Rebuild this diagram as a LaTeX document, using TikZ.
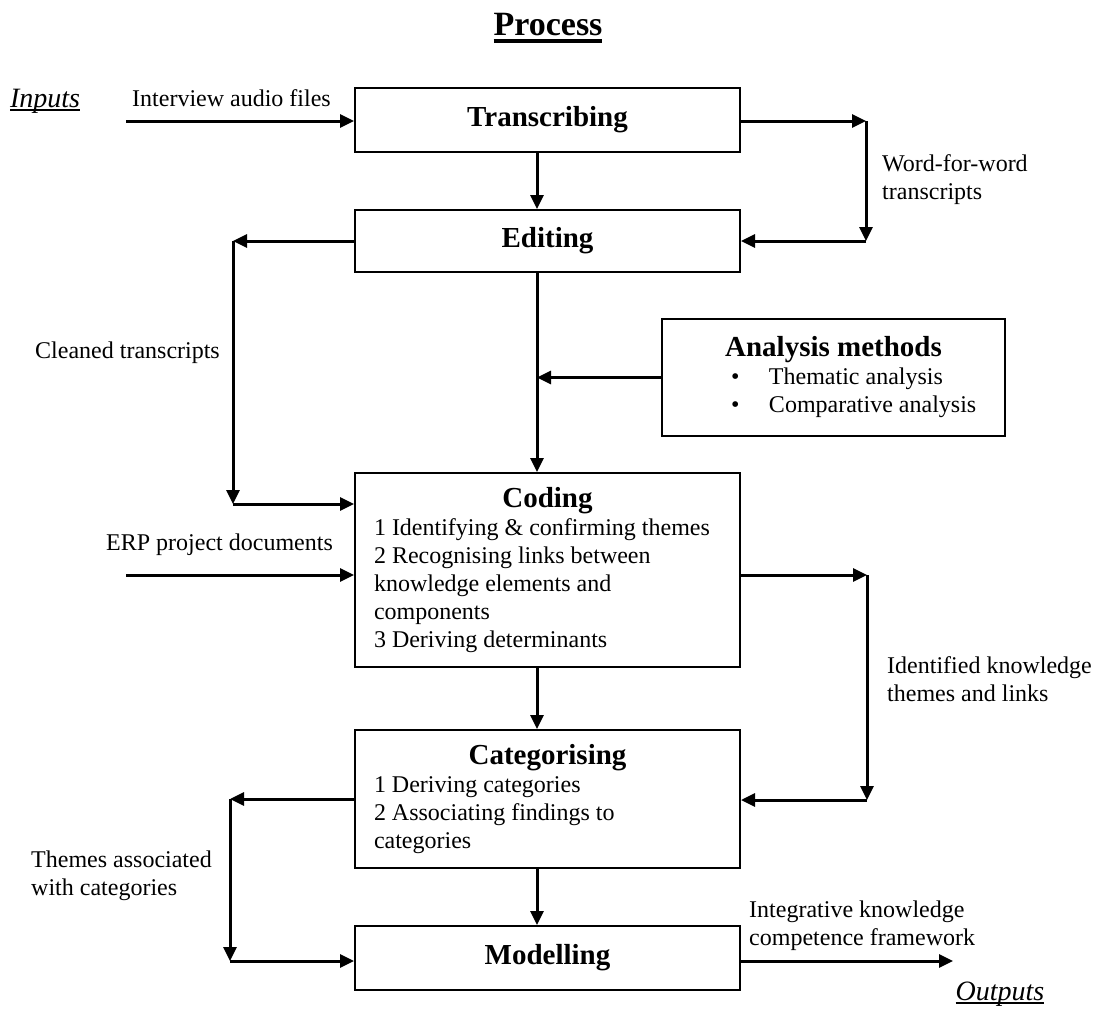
\documentclass[tikz,border=0pt]{standalone}
\usepackage{fontspec}
\setmainfont{Liberation Serif}
\usetikzlibrary{arrows.meta}

\newcommand{\labelsize}{\fontsize{24}{28}\selectfont}
\newcommand{\titlesize}{\fontsize{29}{34}\selectfont\bfseries}
% underline: depth below baseline, rule thickness, text
\newcommand{\ulword}[3]{\setbox0=\hbox{#3}\rlap{\rule[-#1]{\wd0}{#2}}\box0}

\begin{document}
\begin{tikzpicture}[x=1pt, y=-1pt,
    procbox/.style={rectangle, draw, line width=2pt, minimum width=385pt, inner sep=0pt, font=\labelsize},
    flow/.style={-{Triangle[length=14pt,width=13pt]}, line width=3pt},
    lbl/.style={anchor=west, align=flush left, inner sep=0pt, font=\labelsize},
    sidetag/.style={inner sep=0pt, font=\fontsize{28}{32}\selectfont\itshape}]

    \useasboundingbox (0,0) rectangle (1098,1009);

    % Heading and side tags
    \node[inner sep=0pt, font=\fontsize{34}{40}\selectfont\bfseries] (heading) at (548,28) {\ulword{7.5pt}{3.5pt}{Process}};
    \node[sidetag] (inputs) at (45,101) {\ulword{4pt}{1.8pt}{Inputs}};
    \node[sidetag] (outputs) at (1000,994) {\ulword{4pt}{1.8pt}{Outputs}};

    % Process steps
    \node[procbox, minimum height=64pt, font=\titlesize] (transcribing) at (547.5,120) {Transcribing};
    \node[procbox, minimum height=62pt, font=\titlesize] (editing) at (547.5,241) {Editing};
    \node[procbox, minimum height=194pt, text width=347pt, align=flush left] (coding) at (547.5,570)
        {{\centering\titlesize Coding\par}1 Identifying \& confirming themes\\ 2 Recognising links between\\ knowledge elements and\\ components\\ 3 Deriving determinants};
    \node[procbox, minimum height=138pt, text width=347pt, align=flush left] (categorising) at (547.5,799)
        {{\centering\titlesize Categorising\par}1 Deriving categories\\ 2 Associating findings to\\ categories};
    \node[procbox, minimum height=64pt, font=\titlesize] (modelling) at (547.5,958) {Modelling};
    \node[procbox, minimum width=343pt, minimum height=117pt, text width=305pt, align=flush left] (analysis) at (833.5,377.5)
        {{\centering\titlesize Analysis methods\par}\hspace*{50pt}\makebox[38pt][l]{\textbullet}Thematic analysis\\ \hspace*{50pt}\makebox[38pt][l]{\textbullet}Comparative analysis};

    % Flow labels
    \node[lbl] (audio) at (132,98) {Interview audio files};
    \node[lbl] (wordlbl) at (882,180) {Word-for-word\\ transcripts};
    \node[lbl] (cleanlbl) at (35,353) {Cleaned transcripts};
    \node[lbl] (erplbl) at (106,545) {ERP project documents};
    \node[lbl] (identlbl) at (887,679) {Identified knowledge\\ themes and links};
    \node[lbl] (themelbl) at (31,876) {Themes associated\\ with categories};
    \node[lbl] (frameworklbl) at (749,926) {Integrative knowledge\\ competence framework};

    % Corner points of the loops
    \coordinate (spine) at (537,0);
    \coordinate (inStart) at (126,121);
    \coordinate (erpStart) at (126,575);
    \coordinate (wfTop) at (866,121);
    \coordinate (wfBot) at (866,241);
    \coordinate (clTop) at (233,241);
    \coordinate (clBot) at (233,504);
    \coordinate (ikTop) at (867,575);
    \coordinate (ikBot) at (867,800);
    \coordinate (thTop) at (230,799);
    \coordinate (thBot) at (230,961);
    \coordinate (outEnd) at (953,961);

    % Main line down
    \draw[flow] (transcribing.south -| spine) -- (editing.north -| spine);
    \draw[flow] (editing.south -| spine) -- (coding.north -| spine);
    \draw[flow] (coding.south -| spine) -- (categorising.north -| spine);
    \draw[flow] (categorising.south -| spine) -- (modelling.north -| spine);
    \draw[flow] (analysis.west) -- (analysis.west -| spine);

    % Inputs
    \draw[flow] (inStart) -- (transcribing.west |- inStart);
    \draw[flow] (erpStart) -- (coding.west |- erpStart);

    % Loops
    \draw[flow] (transcribing.east |- wfTop) -- (wfTop);
    \draw[flow] (wfTop) -- (wfBot);
    \draw[flow] (wfBot) -- (editing.east |- wfBot);
    \draw[flow] (editing.west |- clTop) -- (clTop);
    \draw[flow] (clTop) -- (clBot);
    \draw[flow] (clBot) -- (coding.west |- clBot);
    \draw[flow] (coding.east |- ikTop) -- (ikTop);
    \draw[flow] (ikTop) -- (ikBot);
    \draw[flow] (ikBot) -- (categorising.east |- ikBot);
    \draw[flow] (categorising.west |- thTop) -- (thTop);
    \draw[flow] (thTop) -- (thBot);
    \draw[flow] (thBot) -- (modelling.west |- thBot);

    % Output
    \draw[flow] (modelling.east |- outEnd) -- (outEnd);
\end{tikzpicture}
\end{document}
